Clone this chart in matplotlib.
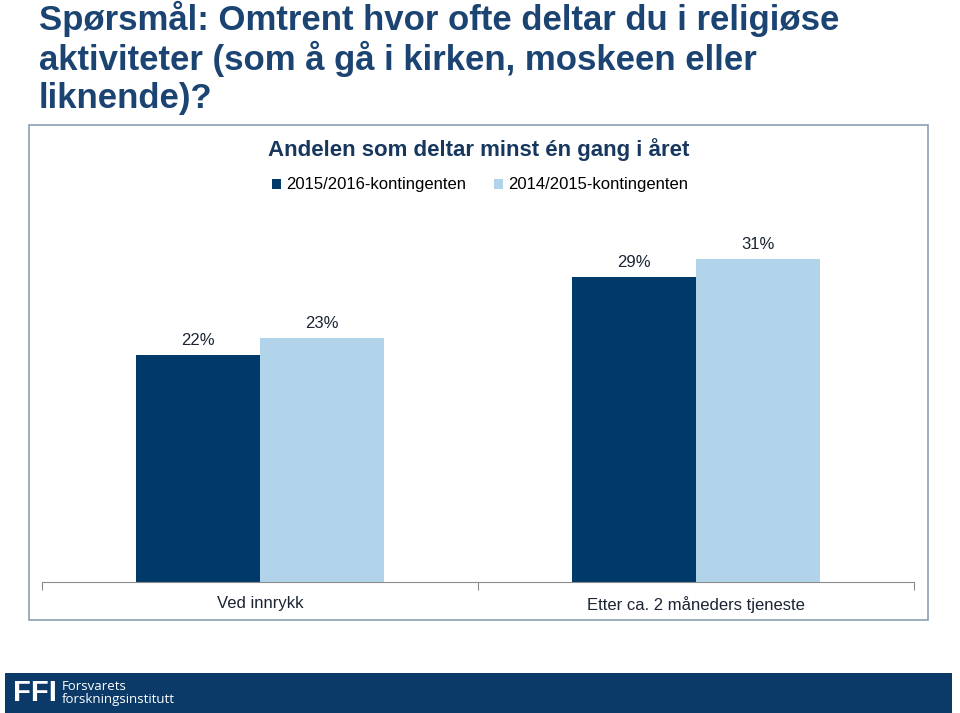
#!/usr/bin/env python3
"""Religious participation chart (FFI survey), recreated as a static figure."""

import matplotlib

matplotlib.use("Agg")

import matplotlib.pyplot as plt
import numpy as np
from matplotlib.patches import Rectangle

COLORS = {
    "navy": "#003a6b",
    "light": "#b1d4ea",
    "title": "#1b4473",
    "subtitle": "#17375e",
    "ink": "#1a2433",
    "frame": "#8a9fb5",
    "axis": "#8c8c8c",
    "banner": "#0b3a68",
}

CATEGORIES = ["Ved innrykk", "Etter ca. 2 måneders tjeneste"]
SERIES = ["2015/2016-kontingenten", "2014/2015-kontingenten"]
VALUES_2015_16 = [21.8, 29.3]
VALUES_2014_15 = [23.4, 31.0]

plt.rcParams["font.family"] = ["Liberation Sans", "DejaVu Sans"]

fig = plt.figure(figsize=(9.6, 7.13), dpi=100)
W, H = 960, 713


def fx(px):
    return px / W


def fy(py):
    return 1 - py / H


# question heading
fig.text(
    fx(39), fy(0.5),
    "Spørsmål: Omtrent hvor ofte deltar du i religiøse\naktiviteter (som å gå i kirken, moskeen eller\nliknende)?",
    ha="left", va="top", fontsize=25, fontweight="bold",
    color=COLORS["title"], linespacing=1.16,
)

# chart frame
fig.add_artist(Rectangle((fx(29), fy(620)), fx(928) - fx(29), fy(125) - fy(620),
                         transform=fig.transFigure, facecolor="white",
                         edgecolor=COLORS["frame"], lw=1.2, zorder=0))

fig.text(fx(479), fy(150), "Andelen som deltar minst én gang i året",
         ha="center", va="center", fontsize=16, fontweight="bold",
         color=COLORS["subtitle"])

ax = fig.add_axes([fx(42), fy(582), fx(914) - fx(42), fy(215) - fy(582)])
ax.patch.set_alpha(0)

x = np.arange(len(CATEGORIES))
width = 0.285
b1 = ax.bar(x - width / 2, VALUES_2015_16, width, color=COLORS["navy"], label=SERIES[0])
b2 = ax.bar(x + width / 2, VALUES_2014_15, width, color=COLORS["light"], label=SERIES[1])

for bars in (b1, b2):
    for rect in bars:
        h = rect.get_height()
        ax.annotate(f"{h:.0f}%", (rect.get_x() + rect.get_width() / 2, h),
                    xytext=(0, 5), textcoords="offset points",
                    ha="center", va="bottom", fontsize=12, color=COLORS["ink"])

ax.set_xlim(-0.5, 1.5)
ax.set_ylim(0, 35.2)
ax.set_yticks([])
ax.set_xticks([-0.5, 0.5, 1.5])
ax.set_xticklabels([])
ax.set_xticks(x, minor=True)
ax.set_xticklabels(CATEGORIES, minor=True, fontsize=12, color=COLORS["ink"])
ax.tick_params(axis="x", which="major", length=6, color=COLORS["axis"], direction="out")
ax.tick_params(axis="x", which="minor", length=0, pad=10)
for side in ("top", "left", "right"):
    ax.spines[side].set_visible(False)
ax.spines["bottom"].set_color(COLORS["axis"])

fig.legend(handles=[b1, b2], loc="center", bbox_to_anchor=(fx(480), fy(185)),
           ncol=2, frameon=False, fontsize=12, handlelength=0.55, handleheight=0.55,
           handletextpad=0.3, columnspacing=1.7)

# FFI banner
fig.add_artist(Rectangle((fx(5), 0), fx(952) - fx(5), fy(673), transform=fig.transFigure,
                         facecolor=COLORS["banner"], edgecolor="none"))
fig.text(fx(13), fy(693), "FFI", ha="left", va="center", fontsize=21,
         fontweight="bold", color="white")
fig.text(fx(62), fy(693), "Forsvarets\nforskningsinstitutt", ha="left", va="center",
         fontsize=9.5, color="white", linespacing=1.0, family=["Open Sans", "DejaVu Sans"])

fig.savefig("out.png", dpi=100)
